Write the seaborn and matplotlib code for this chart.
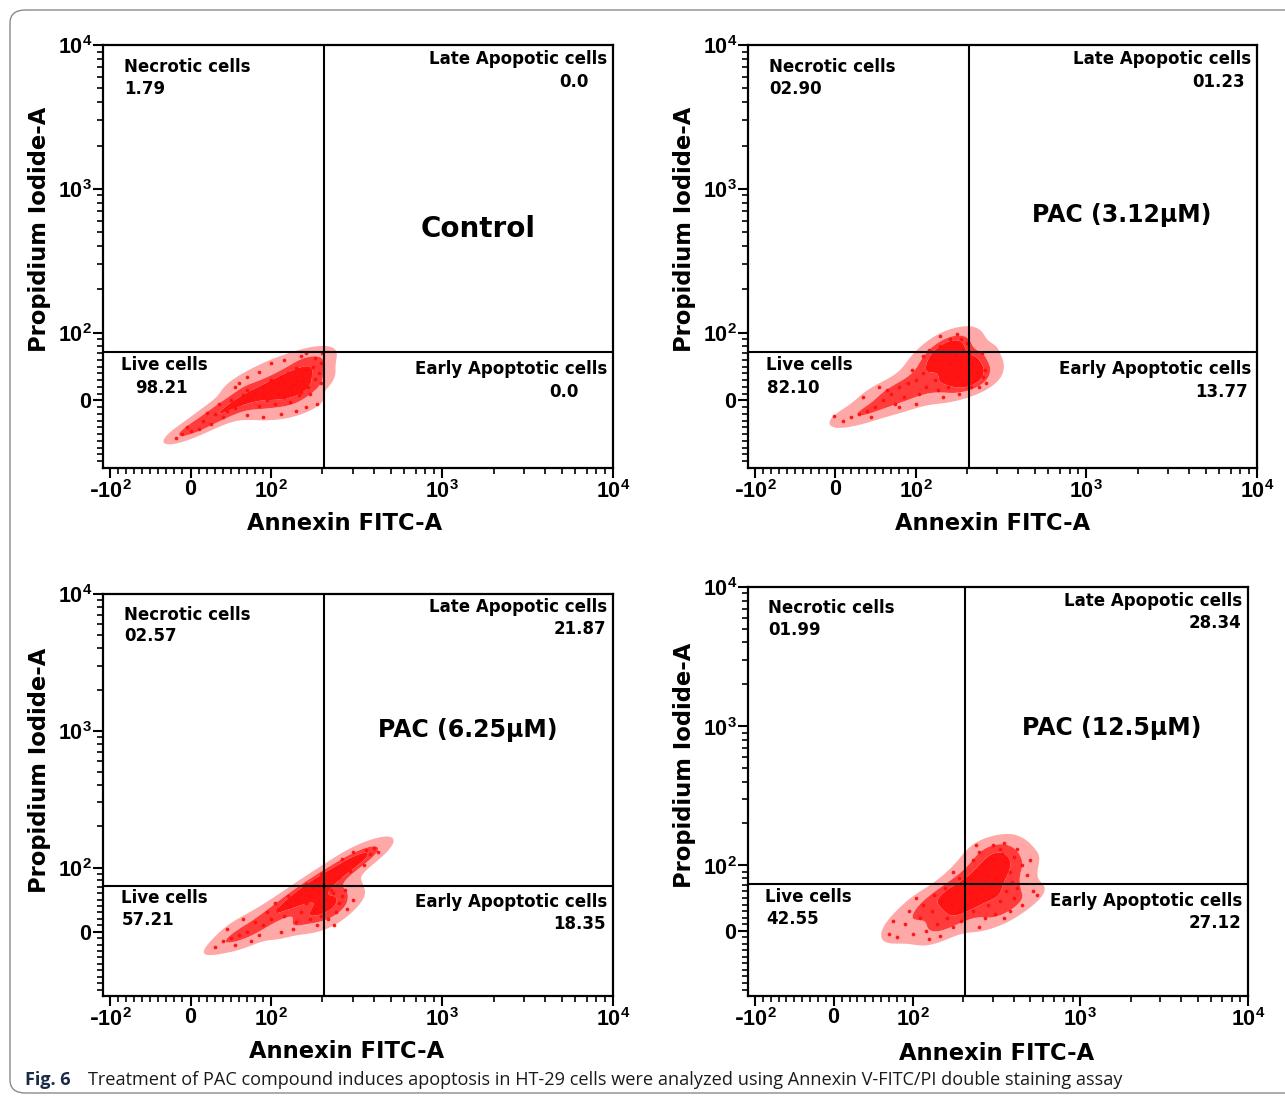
"""Annexin V-FITC / PI flow cytometry quadrant plots (Fig. 6 recreation)."""

import matplotlib.pyplot as plt
import numpy as np
import pandas as pd
import seaborn as sns
from matplotlib.colors import ListedColormap
from matplotlib.patches import FancyBboxPatch
from matplotlib.ticker import FixedLocator, NullFormatter

# ---- data (fluorescence units) ----
titles = ["Control", "PAC (3.12µM)", "PAC (6.25µM)", "PAC (12.5µM)"]
necrotic = ["1.79", "02.90", "02.57", "01.99"]
late_apop = ["0.0", "01.23", "21.87", "28.34"]
live = ["98.21", "82.10", "57.21", "42.55"]
early_apop = ["0.0", "13.77", "18.35", "27.12"]

gate_x = 205
gate_y = 71

ctrl_x = [80, 90, 100, 110, 120, 130, 140, 150, 95, 105, 115, 125, 135, 145, 155, 160,
          85, 75, 70, 100, 120, 140, 130, 110, 90, 150, 165, 175, 180, 170, 60, 65, 55,
          50, 45, 40, 30, 25, 15, 10, 0, -10, -18, -5, 20, 35, 55, 70, 85, 100, 120, 150,
          160, 180, 190, 195, 185, 160, 140, 115, 90, 70, 60, 195, 200]
ctrl_y = [10, 20, 15, 25, 5, 18, 30, 12, 0, -5, 35, 40, 22, 8, 28, 45,
          -8, 2, 15, 30, 28, 48, -2, 10, 8, 38, 20, 50, 32, 10, -5, 8, -12,
          0, -15, -25, -20, -35, -30, -42, -45, -50, -56, -40, -18, -5, 20, 35, 42, 55, 60, 65,
          70, 62, 40, 25, -5, -10, -15, -20, -25, -22, 25, 55, 70]

pac3_x = [120, 130, 140, 150, 160, 170, 180, 190, 200, 210, 150, 130, 110, 100, 90, 140,
          170, 185, 160, 120, 200, 195, 175, 155, 135, 115, 105, 95, 80, 85, 125, 165,
          205, 215, 225, 230, 220, 240, 250, 235, 210, 190, 180, 145, 70, 75, 60, 50,
          65, 55, 40, 30, 20, 10, -2, 35, 45, 80, 100, 110, 245, 255, 260, 140, 175]
pac3_y = [50, 60, 45, 70, 55, 65, 50, 75, 60, 45, 35, 30, 40, 30, 25, 80,
          85, 90, 90, 75, 85, 40, 35, 20, 15, 20, 10, 45, 20, 5, 62, 72,
          70, 55, 60, 40, 30, 50, 35, 20, 20, 25, 10, 5, 10, -5, 0, -10,
          15, 20, -15, -20, -25, -30, -23, 5, -25, -10, -5, 65, 70, 45, 25, 95, 98]

pac6_x = [130, 140, 150, 160, 170, 180, 190, 200, 120, 110, 100, 90, 80, 150, 170, 185,
          140, 125, 195, 160, 175, 105, 95, 70, 60, 50, 40, 30, 45, 65, 85, 115, 135,
          55, 75,
          210, 220, 230, 240, 250, 260, 280, 300, 215, 235, 270, 225,
          210, 230, 250, 270, 290, 310, 330, 350, 380, 420, 400, 360, 300, 260, 240, 220,
          180, 195, 160]
pac6_y = [40, 50, 30, 45, 55, 35, 60, 40, 25, 35, 20, 10, 15, 60, 20, 10,
          15, 55, 25, 65, 68, 45, 30, 0, -5, -10, -15, -23, 5, 20, -5, 0, 5,
          -20, -15,
          50, 40, 60, 30, 45, 55, 35, 50, 20, 10, 65, 65,
          80, 90, 85, 100, 95, 110, 120, 105, 125, 130, 140, 135, 130, 115, 100, 75,
          80, 90, 75]

pac12_x = [220, 240, 260, 280, 300, 320, 340, 360, 380, 400, 420, 450, 250, 300, 350, 230,
           270, 310, 390, 480, 330, 240, 500,
           220, 240, 260, 280, 300, 330, 360, 400, 450, 520, 230, 270, 250, 310, 380, 210,
           290, 420, 350, 550,
           200, 190, 180, 170, 160, 150, 140, 130, 120, 110, 100, 90, 80, 75, 70, 95, 115,
           135, 155, 175, 195, 125, 105, 145, 185, 165,
           190, 175]
pac12_y = [80, 90, 100, 85, 110, 95, 120, 105, 90, 115, 130, 100, 125, 140, 145, 110,
           75, 80, 75, 85, 130, 140, 110,
           60, 50, 65, 40, 55, 45, 60, 50, 40, 60, 30, 20, 5, 25, 30, 40,
           68, 65, 20, 55,
           50, 30, 60, 40, 20, 45, 10, 30, 0, 20, -5, 10, -10, 15, -5, 30, 40,
           55, 65, 5, 15, -12, 50, -8, 45, 60,
           80, 90]

panel_x = [ctrl_x, pac3_x, pac6_x, pac12_x]
panel_y = [ctrl_y, pac3_y, pac6_y, pac12_y]

# ---- style ----
sns.set_theme(style="white")
plt.rcParams.update({
    "font.family": ["DejaVu Sans"],
    "font.weight": "bold",
    "text.color": "black",
    "axes.labelcolor": "black",
    "xtick.color": "black",
    "ytick.color": "black",
    "axes.linewidth": 1.6,
    "axes.edgecolor": "black",
    "figure.facecolor": "white",
    "mathtext.fontset": "custom",
    "mathtext.rm": "Liberation Sans:bold",
    "mathtext.bf": "Liberation Sans:bold",
    "mathtext.default": "bf",
})

LINSCALE = 0.423
LAB_FS = 12
AX_FS = 16.3
TICK_FS = 15.5
cloud_cmap = ListedColormap(["#ffa8a8", "#ff7070", "#ff3b3b", "#ff1414"])

# axes rectangles in figure fractions (left, bottom, width, height)
rects = [
    (0.0802, 0.5730, 0.3969, 0.3860),
    (0.5821, 0.5730, 0.3961, 0.3860),
    (0.0802, 0.0912, 0.3969, 0.3668),
    (0.5821, 0.0912, 0.3891, 0.3732),
]
# per-panel text anchors: value right edges, title centre/size, axis label coords
late_val_x = [0.953, 0.977, 0.986, 0.986]
early_val_x = [0.933, 0.982, 0.986, 0.986]
title_pos = [(0.735, 0.565), (0.735, 0.598), (0.716, 0.662), (0.728, 0.655)]
title_fs = [20, 17, 17, 17]
xlab_pos = [(0.473, -0.104), (0.481, -0.104), (0.478, -0.109), (0.498, -0.112)]
ylab_pos = [(-0.102, 0.563), (-0.103, 0.563), (-0.102, 0.562), (-0.104, 0.565)]

minor_ticks = ([-v for v in range(10, 100, 10)] + list(range(10, 100, 10))
               + list(range(200, 1000, 100)) + list(range(2000, 10000, 1000)))

fig = plt.figure(figsize=(12.85, 10.96), dpi=100)

for i, rect in enumerate(rects):
    ax = fig.add_axes(rect)
    ax.set_xscale("symlog", linthresh=100, linscale=LINSCALE)
    ax.set_yscale("symlog", linthresh=100, linscale=LINSCALE)

    df = pd.DataFrame({"annexin": panel_x[i], "pi": panel_y[i]})
    # density of the event cloud, then the events themselves
    sns.kdeplot(data=df, x="annexin", y="pi", ax=ax, fill=True, cmap=cloud_cmap,
                levels=4, thresh=0.12, bw_adjust=0.85, antialiased=True)
    sns.scatterplot(data=df, x="annexin", y="pi", ax=ax, color="#ff1010",
                    s=7, linewidth=0, alpha=0.95)

    ax.set_xlim(-110, 10000)
    ax.set_ylim(-100, 10000)

    ax.axvline(gate_x, color="black", linewidth=1.5)
    ax.axhline(gate_y, color="black", linewidth=1.5)

    ax.set_xticks([-100, 0, 100, 1000, 10000])
    ax.set_xticklabels(["-$10^{2}$", "$0$", "$10^{2}$", "$10^{3}$", "$10^{4}$"])
    ax.set_yticks([0, 100, 1000, 10000])
    ax.set_yticklabels(["$0$", "$10^{2}$", "$10^{3}$", "$10^{4}$"])
    ax.xaxis.set_minor_locator(FixedLocator(minor_ticks))
    ax.yaxis.set_minor_locator(FixedLocator(minor_ticks))
    ax.xaxis.set_minor_formatter(NullFormatter())
    ax.yaxis.set_minor_formatter(NullFormatter())
    ax.tick_params(which="major", direction="out", length=7, width=1.5,
                   labelsize=TICK_FS, pad=1, bottom=True, left=True)
    ax.tick_params(which="minor", direction="out", length=4, width=1.2,
                   bottom=True, left=True)

    ax.set_xlabel("Annexin FITC-A", fontsize=AX_FS, fontweight="bold")
    ax.set_ylabel("Propidium Iodide-A", fontsize=AX_FS, fontweight="bold")
    ax.xaxis.set_label_coords(*xlab_pos[i])
    ax.yaxis.set_label_coords(*ylab_pos[i])

    # quadrant labels
    tr = ax.transAxes
    ax.text(0.041, 0.948, "Necrotic cells", transform=tr, ha="left", va="center",
            fontsize=LAB_FS)
    ax.text(0.041, 0.895, necrotic[i], transform=tr, ha="left", va="center",
            fontsize=LAB_FS)
    ax.text(0.988, 0.967, "Late Apopotic cells", transform=tr, ha="right",
            va="center", fontsize=LAB_FS)
    ax.text(late_val_x[i], 0.912, late_apop[i], transform=tr, ha="right",
            va="center", fontsize=LAB_FS)
    ax.text(0.035, 0.243, "Live cells", transform=tr, ha="left", va="center",
            fontsize=LAB_FS)
    ax.text(0.063 if i == 0 else 0.037, 0.188, live[i], transform=tr, ha="left",
            va="center", fontsize=LAB_FS)
    ax.text(0.988, 0.233, "Early Apoptotic cells", transform=tr, ha="right",
            va="center", fontsize=LAB_FS)
    ax.text(early_val_x[i], 0.179, early_apop[i], transform=tr, ha="right",
            va="center", fontsize=LAB_FS)

    ax.text(*title_pos[i], titles[i], transform=tr, ha="center", va="center",
            fontsize=title_fs[i], fontweight="bold")

# caption
fig.text(25 / 1285, 1 - 1080 / 1096, "Fig. 6", fontsize=13, fontweight="bold",
         color="#1c2a4a", family=["Open Sans", "DejaVu Sans"], va="center")
fig.text(88 / 1285, 1 - 1080 / 1096,
         "Treatment of PAC compound induces apoptosis in HT-29 cells were analyzed "
         "using Annexin V-FITC/PI double staining assay",
         fontsize=13.1, fontweight="normal", color="#1a1a1a",
         family=["Open Sans", "DejaVu Sans"], va="center")

# thin rounded frame around the figure
frame = FancyBboxPatch((10 / 1285, 3 / 1096), 1.2, 1 - 13 / 1096,
                       boxstyle="round,pad=0,rounding_size=0.012",
                       transform=fig.transFigure, fill=False,
                       edgecolor="#8a8a8a", linewidth=1.0)
fig.patches.append(frame)

fig.savefig("out.png", dpi=100)
